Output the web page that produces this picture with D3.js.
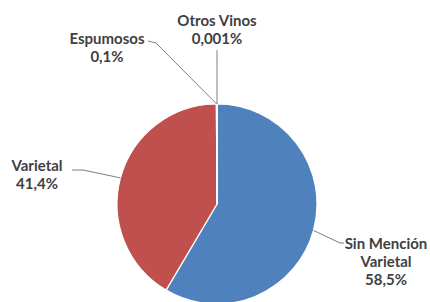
<!DOCTYPE html>
<html>
<head>
<meta charset="utf-8">
<script src="https://cdn.jsdelivr.net/npm/d3@7"></script>
<style>
  body { margin: 0; background: #fff; }
  #chart text { font-family: Lato, "Open Sans", sans-serif; font-weight: 700; fill: #3f3f3f; font-size: 15px; }
</style>
</head>
<body>
<div id="chart"></div>
<script>
var width = 430,
    height = 302;

// data
var categories = ["Sin Mención Varietal", "Varietal", "Espumosos", "Otros Vinos"];
var shares = [58.5, 41.4, 0.1, 0.001];
var shareLabels = ["58,5%", "41,4%", "0,1%", "0,001%"];
var labelLines = [["Sin Mención", "Varietal"], ["Varietal"], ["Espumosos"], ["Otros Vinos"]];

var colors = ["#4f81bd", "#c0504d", "#9bbb59", "#8064a2"];

// label layout: first baseline of text, elbow and end of leader line
var layout = [
  { tx: 386, ty: 249, elbow: [340, 243], end: [344, 243] },
  { tx: 37,  ty: 171, elbow: [83, 170],  end: [72, 170] },
  { tx: 107, ty: 44,  elbow: [156, 43],  end: [148, 41] },
  { tx: 217, ty: 26,  elbow: [217, 50],  end: [217, 50] }
];

var cx = 217, cy = 204, r = 100;

var svg = d3.select("#chart").append("svg")
  .attr("width", width)
  .attr("height", height);

var g = svg.append("g")
  .attr("transform", "translate(" + cx + "," + cy + ")");

var data = categories.map(function(c, i) {
  return { cat: c, value: shares[i], pct: shareLabels[i], lines: labelLines[i], i: i };
});

var pie = d3.pie()
  .sort(null)
  .value(function(d) { return d.value; });

var arc = d3.arc().innerRadius(0).outerRadius(r);

var arcs = pie(data);

g.selectAll("path.slice")
  .data(arcs)
  .enter()
  .append("path")
  .attr("class", "slice")
  .attr("d", arc)
  .style("fill", function(d) { return colors[d.data.i]; })
  .style("stroke", "#fff")
  .style("stroke-width", 1.2);

// leader lines
svg.selectAll("polyline")
  .data(arcs)
  .enter()
  .append("polyline")
  .attr("points", function(d) {
    var a = (d.startAngle + d.endAngle) / 2,
        p = [cx + r * Math.sin(a), cy - r * Math.cos(a)],
        L = layout[d.data.i];
    return [p, L.elbow, L.end].map(function(q) { return q.join(","); }).join(" ");
  })
  .style("fill", "none")
  .style("stroke", "#7f7f7f")
  .style("stroke-width", 1);

// labels
svg.selectAll("text.lab")
  .data(arcs)
  .enter()
  .append("text")
  .attr("class", "lab")
  .attr("text-anchor", "middle")
  .each(function(d) {
    var t = d3.select(this),
        L = layout[d.data.i],
        rows = d.data.lines.concat([d.data.pct]);
    rows.forEach(function(s, k) {
      t.append("tspan").attr("x", L.tx).attr("y", L.ty + k * 18).text(s);
    });
  });
</script>
</body>
</html>
